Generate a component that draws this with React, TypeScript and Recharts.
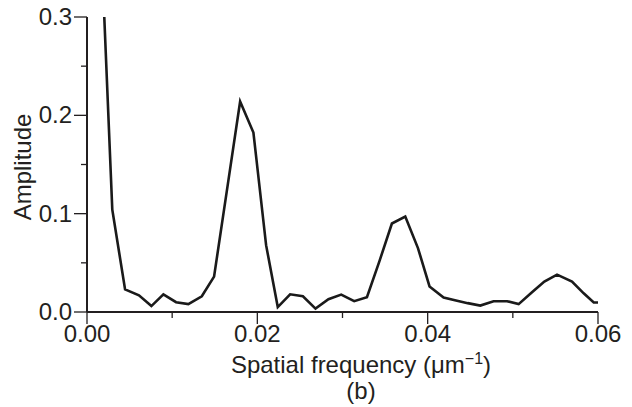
import { LineChart, Line, XAxis, YAxis, Label } from "recharts";

const frequency = [
  0.0015, 0.00297, 0.00447, 0.0061, 0.00756, 0.00897, 0.01046, 0.0119, 0.01348, 0.01492,
  0.01645, 0.01798, 0.01954, 0.02103, 0.0224, 0.02385, 0.02535, 0.02683, 0.02835, 0.02985,
  0.03137, 0.03287, 0.03435, 0.0358, 0.03737, 0.03886, 0.04022, 0.04187, 0.0432, 0.0447,
  0.04618, 0.04774, 0.04932, 0.05068, 0.05225, 0.0537, 0.05519, 0.05695, 0.05832, 0.0595,
  0.0601,
];
const amplitude = [
  0.41, 0.104, 0.023, 0.017, 0.006, 0.018, 0.01, 0.008, 0.016, 0.036,
  0.125, 0.214, 0.1825, 0.068, 0.005, 0.018, 0.016, 0.0035, 0.013, 0.0177,
  0.011, 0.015, 0.052, 0.09, 0.097, 0.065, 0.026, 0.0147, 0.012, 0.009,
  0.0065, 0.011, 0.011, 0.008, 0.02, 0.031, 0.038, 0.031, 0.019, 0.0096,
  0.0096,
];
const xTicks = [0, 0.01, 0.02, 0.03, 0.04, 0.05, 0.06];
const yTicks = [0, 0.05, 0.1, 0.15, 0.2, 0.25, 0.3];

const data = frequency.map((f, i) => ({ f, a: amplitude[i] }));

const ink = "#231f20";
const font = "'Liberation Sans', Arial, sans-serif";

const XTick = ({ x, y, payload }: any) => {
  const major = Math.round(payload.value * 100) % 2 === 0;
  return (
    <g>
      <line x1={x} x2={x} y1={y} y2={y + (major ? 12 : 6)} stroke={ink} strokeWidth={1.3} />
      {major && (
        <text x={x} y={y + 30} textAnchor="middle" fontFamily={font} fontSize={24} fill={ink}>
          {payload.value.toFixed(2)}
        </text>
      )}
    </g>
  );
};

const YTick = ({ x, y, payload }: any) => {
  const major = Math.round(payload.value * 20) % 2 === 0;
  return (
    <g>
      <line x1={x} x2={x - (major ? 13 : 6)} y1={y} y2={y} stroke={ink} strokeWidth={1.3} />
      {major && (
        <text x={x - 15} y={y + 8} textAnchor="end" fontFamily={font} fontSize={24} fill={ink}>
          {payload.value.toFixed(1)}
        </text>
      )}
    </g>
  );
};

const XTitle = () => (
  <g fontFamily={font} fill={ink}>
    <text x={361} y={373} textAnchor="middle" fontSize={24}>
      Spatial frequency (μm
      <tspan dy={-9} fontSize={16}>−1</tspan>
      <tspan dy={9} fontSize={24}>)</tspan>
    </text>
    <text x={361} y={399} textAnchor="middle" fontSize={24}>(b)</text>
  </g>
);

const YTitle = () => (
  <text
    x={22}
    y={167}
    transform="rotate(-90 22 167)"
    textAnchor="middle"
    dominantBaseline="central"
    fontFamily={font}
    fontSize={24}
    fill={ink}
  >
    Amplitude
  </text>
);

export default function App() {
  return (
    <div style={{ position: "absolute", left: 0, top: 0, background: "#fff" }}>
      <LineChart width={632} height={407} data={data} margin={{ top: 17, right: 34, bottom: 0, left: 0 }}>
        <XAxis
          dataKey="f"
          type="number"
          domain={[0, 0.06]}
          ticks={xTicks}
          allowDataOverflow
          height={95}
          tickSize={0}
          tickMargin={0}
          tickLine={false}
          tick={<XTick />}
          axisLine={{ stroke: ink, strokeWidth: 2 }}
          interval={0}
        >
          <Label content={<XTitle />} />
        </XAxis>
        <YAxis
          type="number"
          domain={[0, 0.3]}
          ticks={yTicks}
          allowDataOverflow
          width={87}
          tickSize={0}
          tickMargin={0}
          tickLine={false}
          tick={<YTick />}
          axisLine={{ stroke: ink, strokeWidth: 2 }}
          interval={0}
        >
          <Label content={<YTitle />} />
        </YAxis>
        <Line
          dataKey="a"
          type="linear"
          stroke="#1a1a1a"
          strokeWidth={2.6}
          dot={false}
          isAnimationActive={false}
        />
      </LineChart>
    </div>
  );
}
